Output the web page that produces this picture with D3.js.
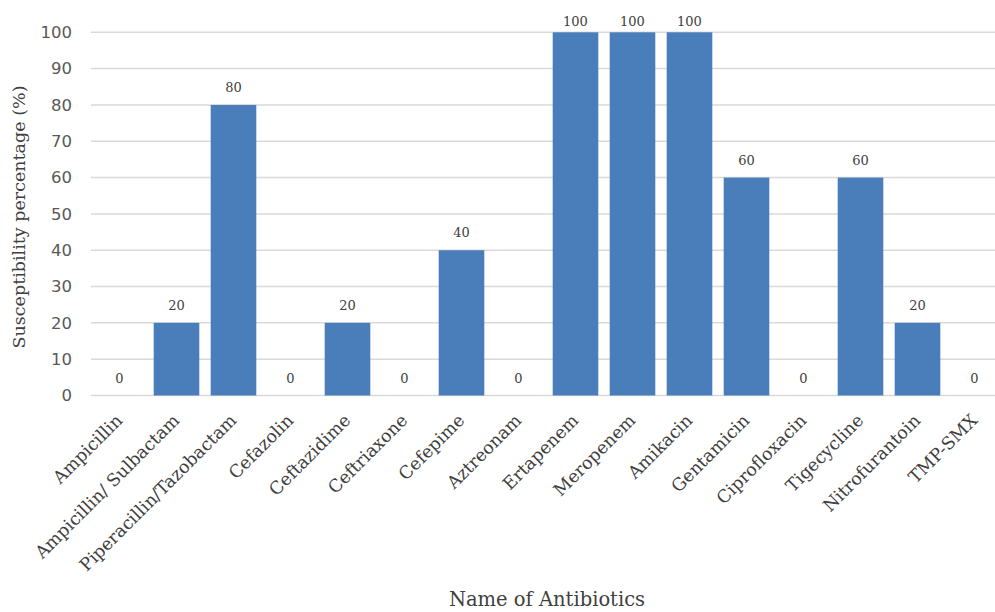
<!DOCTYPE html>
<html>
<head>
<meta charset="utf-8">
<script src="https://cdn.jsdelivr.net/npm/d3@7"></script>
<style>
  body { margin: 0; background: #fff; }
</style>
</head>
<body>
<script>
// data
var antibiotics = ["Ampicillin", "Ampicillin/ Sulbactam", "Piperacillin/Tazobactam", "Cefazolin",
  "Ceftazidime", "Ceftriaxone", "Cefepime", "Aztreonam", "Ertapenem", "Meropenem", "Amikacin",
  "Gentamicin", "Ciprofloxacin", "Tigecycline", "Nitrofurantoin", "TMP-SMX"];
var susceptibility = [0, 20, 80, 0, 20, 0, 40, 0, 100, 100, 100, 60, 0, 60, 20, 0];
var yTicks = [0, 10, 20, 30, 40, 50, 60, 70, 80, 90, 100];

var dataset = antibiotics.map(function(d, i) { return {name: d, value: susceptibility[i]}; });

// svg
var svg = d3.select("body").append("svg")
  .attr("width", 995)
  .attr("height", 612);

// scales
var x = d3.scaleBand()
  .domain(antibiotics)
  .range([91, 1003])
  .paddingInner(0.2)
  .paddingOuter(0.1);

var y = d3.scaleLinear()
  .domain([0, 100])
  .range([395.5, 32.3]);

// gridlines
svg.append("g")
  .selectAll("line")
  .data(yTicks)
  .enter()
  .append("line")
  .attr("x1", 91)
  .attr("x2", 995)
  .attr("y1", function(d) { return y(d); })
  .attr("y2", function(d) { return y(d); })
  .attr("stroke", "#d9d9d9")
  .attr("stroke-width", 1.5);

// y axis labels
var yAxis = svg.append("g")
  .attr("transform", "translate(91,0)")
  .call(d3.axisLeft(y).tickValues(yTicks).tickSize(0).tickPadding(19));
yAxis.select(".domain").remove();
yAxis.selectAll("text")
  .attr("font-family", "DejaVu Sans")
  .attr("font-size", "16.5px")
  .attr("fill", "#595959");

// bars
svg.selectAll("rect.bar")
  .data(dataset)
  .enter()
  .append("rect")
  .attr("class", "bar")
  .attr("x", function(d) { return x(d.name); })
  .attr("y", function(d) { return y(d.value); })
  .attr("width", x.bandwidth())
  .attr("height", function(d) { return y(0) - y(d.value); })
  .attr("fill", "#4a7ebb");

// value labels
svg.selectAll("text.val")
  .data(dataset)
  .enter()
  .append("text")
  .attr("class", "val")
  .text(function(d) { return d.value; })
  .attr("x", function(d) { return x(d.name) + x.bandwidth() / 2; })
  .attr("y", function(d) { return Math.max(y(d.value) - 13, 26); })
  .attr("text-anchor", "middle")
  .attr("font-family", "DejaVu Serif")
  .attr("font-size", "13px")
  .attr("fill", "#404040");

// x axis labels
var xAxis = svg.append("g")
  .attr("transform", "translate(0," + y(0) + ")")
  .call(d3.axisBottom(x).tickSize(0).tickPadding(0));
xAxis.select(".domain").remove();
xAxis.selectAll("text")
  .attr("font-family", "DejaVu Serif")
  .attr("font-size", "17.5px")
  .attr("fill", "#404040")
  .attr("dy", null)
  .attr("text-anchor", "end")
  .attr("transform", "translate(4,26) rotate(-45)");

// axis titles
svg.append("text")
  .text("Name of Antibiotics")
  .attr("x", 547)
  .attr("y", 606)
  .attr("text-anchor", "middle")
  .attr("font-family", "DejaVu Serif")
  .attr("font-size", "19.5px")
  .attr("fill", "#404040");

svg.append("text")
  .text("Susceptibility percentage (%)")
  .attr("transform", "translate(25,217) rotate(-90)")
  .attr("text-anchor", "middle")
  .attr("font-family", "DejaVu Serif")
  .attr("font-size", "17.5px")
  .attr("fill", "#404040");
</script>
</body>
</html>
